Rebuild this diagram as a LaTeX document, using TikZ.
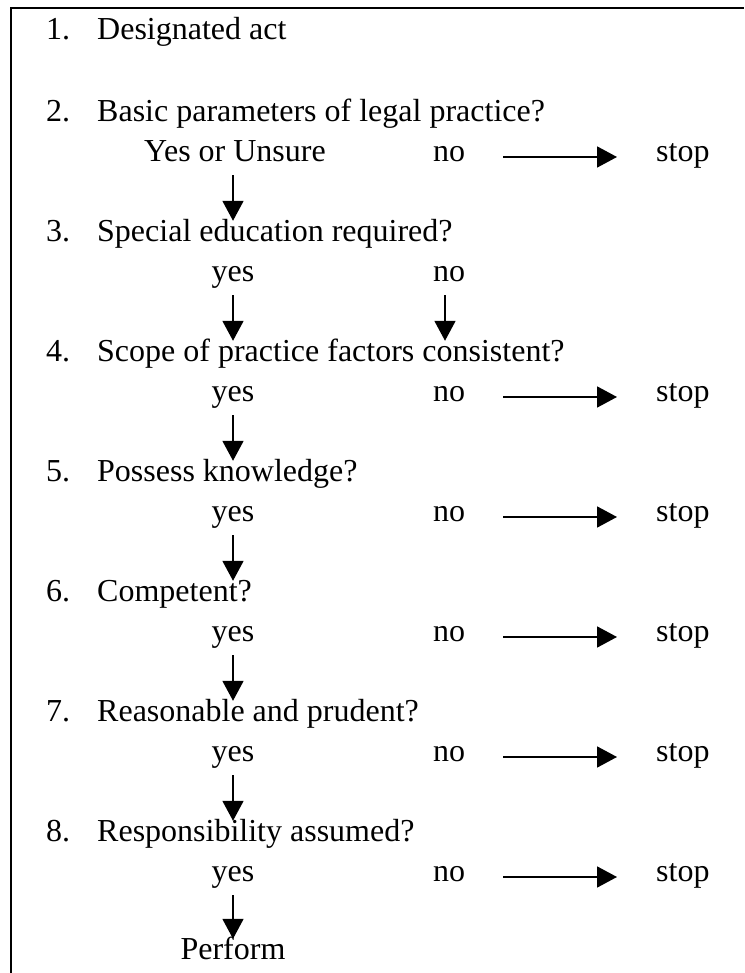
\documentclass[tikz,border=0pt]{standalone}
\usepackage{fontspec}
\setmainfont{Liberation Serif}
\usetikzlibrary{arrows.meta}

\begin{document}
\begin{tikzpicture}[x=1pt,y=1pt,
  every node/.style={inner sep=0pt,font=\fontsize{32}{38}\selectfont},
  num/.style={anchor=base west},
  quest/.style={anchor=base west,text height=21pt,text depth=8pt},
  ans/.style={anchor=base,text height=23pt,text depth=13pt},
  arr/.style={-{Triangle[length=20pt,width=21pt]},line width=1.8pt}]
  \useasboundingbox (0,0) rectangle (744,973);
  \draw[black, line width=2.5pt] (11,0) -- (11,965) -- (744,965);
  % questions
  \node[num] (n1) at (46,933) {1.};
  \node[quest] (q1) at (97,933) {Designated act};
  \node[num] (n2) at (46,851) {2.};
  \node[quest] (q2) at (97,851) {Basic parameters of legal practice?};
  \node[num] (n3) at (46,731) {3.};
  \node[quest] (q3) at (97,731) {Special education required?};
  \node[num] (n4) at (46,611) {4.};
  \node[quest] (q4) at (97,611) {Scope of practice factors consistent?};
  \node[num] (n5) at (46,491) {5.};
  \node[quest] (q5) at (97,491) {Possess knowledge?};
  \node[num] (n6) at (46,371) {6.};
  \node[quest] (q6) at (97,371) {Competent?};
  \node[num] (n7) at (46,251) {7.};
  \node[quest] (q7) at (97,251) {Reasonable and prudent?};
  \node[num] (n8) at (46,131) {8.};
  \node[quest] (q8) at (97,131) {Responsibility assumed?};
  \node[quest,anchor=base] (perform) at (233,13) {Perform};
  % answers
  \node[ans] (y2) at (235,811) {Yes or Unsure};
  \node[ans] (no2) at (449,811) {no};
  \node[ans,anchor=base west] (s2) at (656,811) {stop};
  \node[ans] (y3) at (233,691) {yes};
  \node[ans] (no3) at (449,691) {no};
  \node[ans] (y4) at (233,571) {yes};
  \node[ans] (no4) at (449,571) {no};
  \node[ans,anchor=base west] (s4) at (656,571) {stop};
  \node[ans] (y5) at (233,451) {yes};
  \node[ans] (no5) at (449,451) {no};
  \node[ans,anchor=base west] (s5) at (656,451) {stop};
  \node[ans] (y6) at (233,331) {yes};
  \node[ans] (no6) at (449,331) {no};
  \node[ans,anchor=base west] (s6) at (656,331) {stop};
  \node[ans] (y7) at (233,211) {yes};
  \node[ans] (no7) at (449,211) {no};
  \node[ans,anchor=base west] (s7) at (656,211) {stop};
  \node[ans] (y8) at (233,91) {yes};
  \node[ans] (no8) at (449,91) {no};
  \node[ans,anchor=base west] (s8) at (656,91) {stop};
  % down arrows
  \draw[arr] ([xshift=-2pt]y2.south) -- ([xshift=-2pt]y2.south |- q3.north);
  \draw[arr] (y3.south) -- (y3.south |- q4.north);
  \draw[arr] ([xshift=-4pt]no3.south) -- ([xshift=-4pt]no3.south |- q4.north);
  \draw[arr] (y4.south) -- (y4.south |- q5.north);
  \draw[arr] (y5.south) -- (y5.south |- q6.north);
  \draw[arr] (y6.south) -- (y6.south |- q7.north);
  \draw[arr] (y7.south) -- (y7.south |- q8.north);
  \draw[arr] (y8.south) -- (perform.north);
  % stop arrows
  \draw[arr,shorten <=38pt,shorten >=39pt] (no2.east) -- (s2.west);
  \draw[arr,shorten <=38pt,shorten >=39pt] (no4.east) -- (s4.west);
  \draw[arr,shorten <=38pt,shorten >=39pt] (no5.east) -- (s5.west);
  \draw[arr,shorten <=38pt,shorten >=39pt] (no6.east) -- (s6.west);
  \draw[arr,shorten <=38pt,shorten >=39pt] (no7.east) -- (s7.west);
  \draw[arr,shorten <=38pt,shorten >=39pt] (no8.east) -- (s8.west);
\end{tikzpicture}
\end{document}
